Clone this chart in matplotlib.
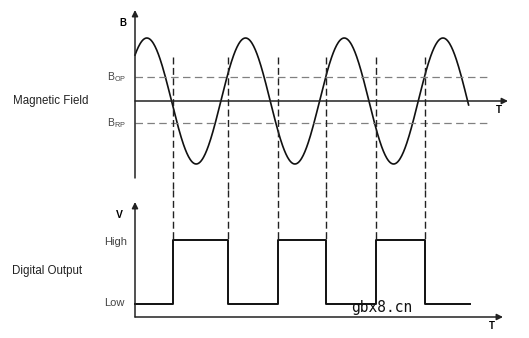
import numpy as np
import matplotlib
matplotlib.use('Agg')
import matplotlib.pyplot as plt

plt.rcParams['font.family'] = ['Liberation Sans', 'DejaVu Sans']
plt.rcParams['mathtext.fontset'] = 'custom'
plt.rcParams['mathtext.rm'] = 'Liberation Sans'

# dados (tempo em períodos da senoide)
periodo = 1.0
fase_pico = 0.12          # posição do primeiro pico
t_fim = 3.38              # fim da senoide
amplitude = 1.0
b_op, b_rp = 0.38, -0.35  # limiares de operação / liberação
trocas = [0.385, 0.942, 1.449, 1.935, 2.442, 2.938]   # instantes de comutação
niveis = [0, 1, 0, 1, 0, 1, 0]                         # Low=0, High=1
t_fim_dig = 3.39

px = 98.7  # pixels por período
xlim = (-135 / px, 394 / px)

fig = plt.figure(figsize=(5.29, 3.38), dpi=100)
ax1 = fig.add_axes([0, 148 / 338, 1, 190 / 338])
ax2 = fig.add_axes([0, 0, 1, 148 / 338])
for ax in (ax1, ax2):
    ax.set_xlim(*xlim)
    ax.axis('off')
ax1.set_ylim(-89 / 63, 101 / 63)
ax2.set_ylim(-34 / 64, 114 / 64)

cor_eixo = '#222222'
seta = dict(arrowstyle='-|>', color=cor_eixo, lw=1.1, shrinkA=0, shrinkB=0,
            mutation_scale=9)

# campo magnético
t = np.linspace(0, t_fim, 600)
b = amplitude * np.cos(2 * np.pi * (t - fase_pico) / periodo)
ax1.plot(t, b, color='#111111', lw=1.2)
ax1.annotate('', xy=(0, 91 / 63), xytext=(0, -77 / 63), arrowprops=seta)
ax1.annotate('', xy=(373 / px, 0), xytext=(0, 0), arrowprops=seta)
for nivel in (b_op, b_rp):
    ax1.plot([0, 353 / px], [nivel, nivel], color='#808080', lw=0.9,
             dashes=(6, 3.5))
for tt in trocas:
    ax1.plot([tt, tt], [0.7, -89 / 63], color='#222222', lw=1.0, dashes=(5, 2.5))
    ax2.plot([tt, tt], [114 / 64, 1], color='#222222', lw=1.0, dashes=(5, 2.5))

ax1.text(-1.236, 0, 'Magnetic Field', fontsize=8.3, va='center', ha='left',
         color='#222222')
ax1.text(-0.09, 1.24, 'B', fontsize=7, fontweight='bold', ha='right', va='center')
ax1.text(3.69, -0.15, 'T', fontsize=7, fontweight='bold', ha='center', va='center')
ax1.text(-0.09, b_op, r'B$_{\mathrm{OP}}$', fontsize=7.5, ha='right', va='center',
         color='#444444')
ax1.text(-0.09, b_rp, r'B$_{\mathrm{RP}}$', fontsize=7.5, ha='right', va='center',
         color='#444444')

# saída digital
xs = [0] + [v for tt in trocas for v in (tt, tt)] + [t_fim_dig]
ys = [v for n in niveis for v in (n, n)]
ax2.plot(xs, ys, color='#111111', lw=1.4)
ax2.annotate('', xy=(0, 102 / 64), xytext=(0, -13 / 64), arrowprops=seta)
ax2.annotate('', xy=(368 / px, -13 / 64), xytext=(0, -13 / 64), arrowprops=seta)

ax2.text(-1.246, 0.52, 'Digital Output', fontsize=8.3, va='center', ha='left',
         color='#222222')
ax2.text(-0.08, 0.97, 'High', fontsize=8, ha='right', va='center', color='#444444')
ax2.text(-0.11, 0.01, 'Low', fontsize=8, ha='right', va='center', color='#444444')
ax2.text(-0.12, 1.39, 'V', fontsize=7.5, fontweight='bold', ha='right', va='center')
ax2.text(3.617, -0.344, 'T', fontsize=7, fontweight='bold', ha='center', va='center')

ax2.text(2.495, -0.05, 'gbx8.cn', fontsize=10.5, family='DejaVu Sans Mono',
         ha='center', va='center', color='#111111')

fig.savefig('out.png', dpi=100)
